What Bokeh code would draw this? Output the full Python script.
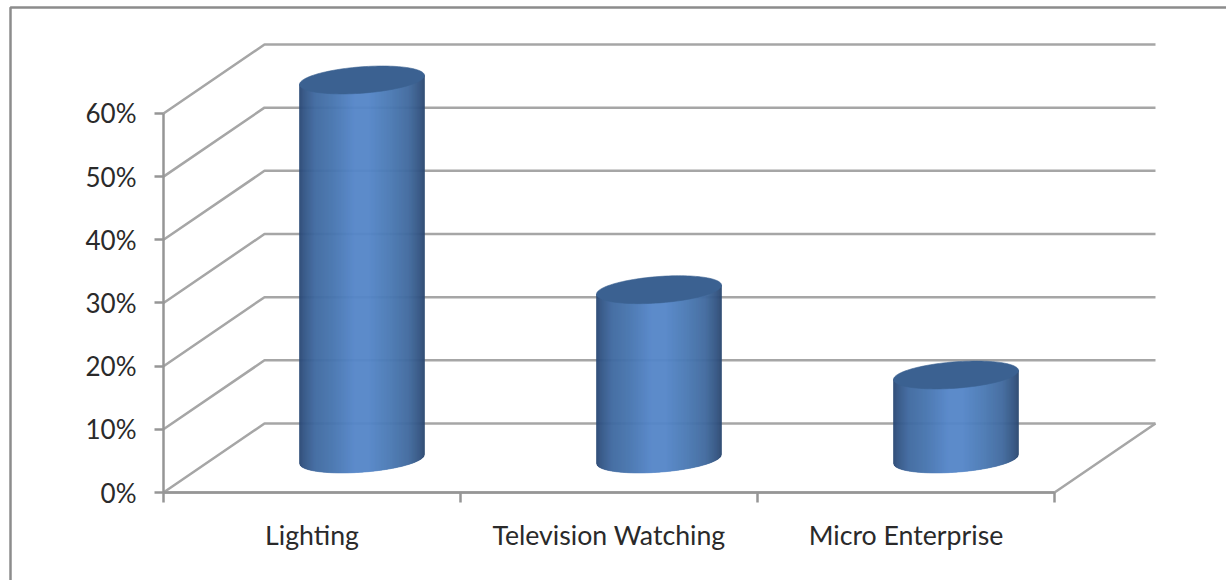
import numpy as np
from bokeh.embed import file_html
from bokeh.models import FixedTicker, LinearAxis, NumeralTickFormatter, Range1d
from bokeh.plotting import figure
from bokeh.resources import INLINE

# Chart data
categories = ["Lighting", "Television Watching", "Micro Enterprise"]
shares = [60, 26.8, 13.3]
percent_ticks = [0, 10, 20, 30, 40, 50, 60]

# Page scale: one category slot and one percentage point in pixels
W, H = 1226, 580
SLOT_PX, PCT_PX = 297.0, 6.317
ORIGIN_X, ORIGIN_Y = 163.0, 492.0

# Oblique projection of the chart depth, in axis units
DEPTH_X, DEPTH_Y = 101 / SLOT_PX, 69 / PCT_PX

# Cylinder shape, in axis units
SHIFT_X, SHIFT_Y = 50 / SLOT_PX, 33.5 / PCT_PX
RADIUS_X = 62.5 / SLOT_PX
TILT_Y, RADIUS_Y = 4.5 / PCT_PX, 13.2 / PCT_PX

GRID = "#a6a6a6"
AXIS = "#969696"
TEXT = "#2a2a2a"
CAP = "#3b6191"

# Horizontal shading across the cylinder side
SHADE_U = [-1.0, -0.93, -0.75, -0.45, -0.12, 0.12, 0.45, 0.75, 0.92, 1.0]
SHADE_RGB = [(42, 72, 116), (50, 84, 132), (64, 106, 160), (72, 118, 176), (85, 134, 201),
             (85, 134, 200), (75, 122, 180), (65, 106, 158), (52, 86, 132), (44, 72, 112)]


def shade(u):
    r, g, b = (np.interp(u, SHADE_U, [c[i] for c in SHADE_RGB]) for i in range(3))
    return f"#{int(r):02x}{int(g):02x}{int(b):02x}"


p = figure(
    width=W, height=H, output_backend="svg", toolbar_location=None,
    x_range=Range1d(-ORIGIN_X / SLOT_PX, (W - ORIGIN_X) / SLOT_PX),
    y_range=Range1d((ORIGIN_Y - H) / PCT_PX, ORIGIN_Y / PCT_PX),
    x_axis_location=None, y_axis_location=None, min_border=0,
    outline_line_color=None, background_fill_color="white", border_fill_color="white",
)
p.grid.visible = False

x_lo, y_hi = p.x_range.start, p.y_range.end

# Chart frame: only the top and left edges are visible
frame_x = x_lo + 10 / SLOT_PX
frame_y = y_hi - 7 / PCT_PX
p.line([frame_x, frame_x, p.x_range.end], [p.y_range.start, frame_y, frame_y],
       line_color="#8c8c8c", line_width=2.5)

# Gridlines on the side wall and the back wall
n_cat = len(categories)
p.multi_line(
    [[0, DEPTH_X, n_cat + DEPTH_X] for _ in percent_ticks],
    [[v, v + DEPTH_Y, v + DEPTH_Y] for v in percent_ticks],
    line_color=GRID, line_width=2.5,
)
# Floor edges
p.line([0, n_cat, n_cat + DEPTH_X], [0, 0, DEPTH_Y], line_color=GRID, line_width=2.5)

# Cylinders: narrow shaded strips for the side, an ellipse for the cap
u_edges = np.linspace(-1, 1, 126)
for i, share in enumerate(shares):
    cx = i + 0.5 + SHIFT_X
    xs, ys, colors = [], [], []
    for u0, u1 in zip(u_edges[:-1], u_edges[1:]):
        x0, x1 = cx + RADIUS_X * u0, cx + RADIUS_X * u1
        low0 = SHIFT_Y + TILT_Y * u0 - RADIUS_Y * np.sqrt(1 - u0 ** 2)
        low1 = SHIFT_Y + TILT_Y * u1 - RADIUS_Y * np.sqrt(1 - u1 ** 2)
        top0 = SHIFT_Y + share + TILT_Y * u0
        top1 = SHIFT_Y + share + TILT_Y * u1
        xs.append([x0, x1, x1, x0])
        ys.append([low0, low1, top1, top0])
        colors.append(shade((u0 + u1) / 2))
    p.patches(xs, ys, fill_color=colors, line_color=colors, line_width=0.6)

    t = np.linspace(0, 2 * np.pi, 121)
    p.patch(cx + RADIUS_X * np.cos(t),
            SHIFT_Y + share + TILT_Y * np.cos(t) + RADIUS_Y * np.sin(t),
            fill_color=CAP, line_color=CAP, line_width=0.6)

# Percentage axis, placed inside the full-page frame
y_axis = LinearAxis(
    fixed_location=0, bounds=(0, 60),
    ticker=FixedTicker(ticks=percent_ticks),
    formatter=NumeralTickFormatter(format="0%"),
)
y_axis.major_label_overrides = {v: f"{v}%" for v in percent_ticks}
y_axis.axis_line_color = AXIS
y_axis.axis_line_width = 2.5
y_axis.major_tick_line_color = AXIS
y_axis.major_tick_line_width = 2.5
y_axis.major_tick_in = 0
y_axis.major_tick_out = 9
y_axis.minor_tick_out = 0
y_axis.minor_tick_in = 0
y_axis.major_label_standoff = 18
y_axis.major_label_text_font = "Lato"
y_axis.major_label_text_font_size = "26px"
y_axis.major_label_text_color = TEXT
p.add_layout(y_axis, "left")

# Category axis: labels centred in the slots, tick marks on the slot edges
x_axis = LinearAxis(
    fixed_location=0, bounds=(0, n_cat),
    ticker=FixedTicker(ticks=[i + 0.5 for i in range(n_cat)],
                       minor_ticks=list(range(n_cat + 1))),
)
x_axis.major_label_overrides = {i + 0.5: c for i, c in enumerate(categories)}
x_axis.axis_line_color = AXIS
x_axis.axis_line_width = 2.5
x_axis.major_tick_in = 0
x_axis.major_tick_out = 0
x_axis.minor_tick_line_color = AXIS
x_axis.minor_tick_line_width = 2.5
x_axis.minor_tick_in = 0
x_axis.minor_tick_out = 10
x_axis.major_label_standoff = 16
x_axis.major_label_text_font = "Lato"
x_axis.major_label_text_font_size = "26.7px"
x_axis.major_label_text_color = TEXT
p.add_layout(x_axis, "below")

open("out.html", "w").write(file_html(p, INLINE))
